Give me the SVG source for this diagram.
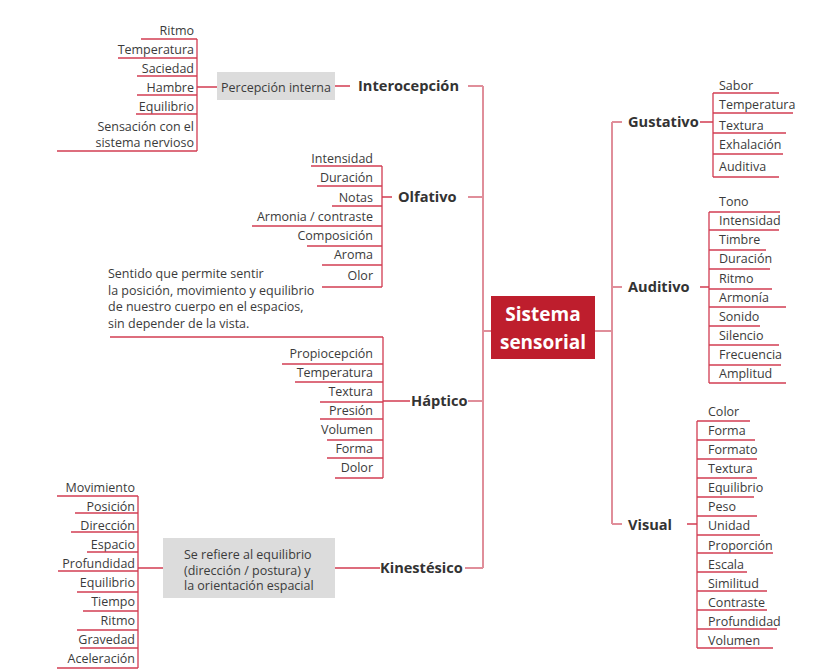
<svg xmlns="http://www.w3.org/2000/svg" width="815" height="669" viewBox="0 0 815 669">
<style>
.bg{fill:#ffffff}
.t{font-family:"Open Sans","Liberation Sans",sans-serif;font-size:12.5px;fill:#3b3b3b}
.e{text-anchor:end}
.b{font-family:"Open Sans","Liberation Sans",sans-serif;font-size:14.6px;font-weight:bold;fill:#333333}
.c{font-family:"Open Sans","Liberation Sans",sans-serif;font-size:19px;font-weight:bold;fill:#ffffff;text-anchor:middle}
.u{stroke:#d23c52;stroke-width:1.3;fill:none}
.k{stroke:#e08e9a;stroke-width:2;fill:none}
.box{fill:#dcdcdc}
</style>
<rect class="bg" x="0" y="0" width="815" height="669"/>
<g id="connectors">
  <path class="k" d="M483 86V568M468 86H483M468 197H483M483 331H491M468 401H483M465 568H483"/>
  <path class="k" d="M612 122V524M595 331H612M612 122H622M612 287H622M612 524H622"/>
  <path class="u" d="M197 39V151M197 87H217M335 86H350"/>
  <path class="u" d="M382 166V287M382 197H392"/>
  <path class="u" d="M383 337V478M383 401H410"/>
  <path class="u" d="M138 496V668M138 568H163M335 568H380"/>
  <path class="u" d="M713 93V177M700 122H713"/>
  <path class="u" d="M709 212V383M700 287H709"/>
  <path class="u" d="M697 421V648M687 524H697"/>
</g>
<g id="center">
  <rect x="491" y="296" width="104" height="63" fill="#be1e2d"/>
  <text class="c" x="543" y="321">Sistema</text>
  <text class="c" x="543" y="349">sensorial</text>
</g>
<g id="interocepcion">
  <text class="b" x="358" y="91">Interocepción</text>
</g>
<g id="percepcion-interna">
  <rect class="box" x="217" y="72" width="118" height="28"/>
  <text class="t" x="276" y="91.5" text-anchor="middle">Percepción interna</text>
</g>
<g id="intero-items">
  <g id="i-ritmo"><text class="t e" x="194" y="34.5">Ritmo</text><path class="u" d="M141 39H197"/></g>
  <g id="i-temperatura"><text class="t e" x="194" y="53.5">Temperatura</text><path class="u" d="M118 58H197"/></g>
  <g id="i-saciedad"><text class="t e" x="194" y="72.5">Saciedad</text><path class="u" d="M137 76H197"/></g>
  <g id="i-hambre"><text class="t e" x="194" y="91.5">Hambre</text><path class="u" d="M137 95H197"/></g>
  <g id="i-equilibrio"><text class="t e" x="194" y="110.5">Equilibrio</text><path class="u" d="M136 114H197"/></g>
  <g id="i-sensacion"><text class="t e" x="194" y="130.5">Sensación con el</text><text class="t e" x="194" y="147">sistema nervioso</text><path class="u" d="M57 151H197"/></g>
</g>
<g id="olfativo">
  <text class="b" x="398" y="202">Olfativo</text>
</g>
<g id="olf-items">
  <g id="o-intensidad"><text class="t e" x="373" y="162.5">Intensidad</text><path class="u" d="M311 166H382"/></g>
  <g id="o-duracion"><text class="t e" x="373" y="181.5">Duración</text><path class="u" d="M317 186H382"/></g>
  <g id="o-notas"><text class="t e" x="373" y="201.5">Notas</text><path class="u" d="M332 206H382"/></g>
  <g id="o-armonia"><text class="t e" x="373" y="220.5">Armonia / contraste</text><path class="u" d="M252 226H382"/></g>
  <g id="o-composicion"><text class="t e" x="373" y="239.5">Composición</text><path class="u" d="M307 246H382"/></g>
  <g id="o-aroma"><text class="t e" x="373" y="258.5">Aroma</text><path class="u" d="M322 265H382"/></g>
  <g id="o-olor"><text class="t e" x="373" y="279.5">Olor</text><path class="u" d="M322 287H382"/></g>
</g>
<g id="haptico">
  <text class="b" x="411" y="406">Háptico</text>
</g>
<g id="haptico-desc">
  <text class="t" x="108" y="278">Sentido que permite sentir</text>
  <text class="t" x="108" y="294.5">la posición, movimiento y equilibrio</text>
  <text class="t" x="108" y="311">de nuestro cuerpo en el espacios,</text>
  <text class="t" x="108" y="327.5">sin depender de la vista.</text>
  <path class="u" d="M110 337H383"/>
</g>
<g id="hap-items">
  <g id="h-propiocepcion"><text class="t e" x="373" y="357.5">Propiocepción</text><path class="u" d="M282 364H383"/></g>
  <g id="h-temperatura"><text class="t e" x="373" y="376.5">Temperatura</text><path class="u" d="M295 382H383"/></g>
  <g id="h-textura"><text class="t e" x="373" y="395.5">Textura</text><path class="u" d="M320 402H383"/></g>
  <g id="h-presion"><text class="t e" x="373" y="414.5">Presión</text><path class="u" d="M320 419H383"/></g>
  <g id="h-volumen"><text class="t e" x="373" y="433.5">Volumen</text><path class="u" d="M327 440H383"/></g>
  <g id="h-forma"><text class="t e" x="373" y="452.5">Forma</text><path class="u" d="M327 458H383"/></g>
  <g id="h-dolor"><text class="t e" x="373" y="471.5">Dolor</text><path class="u" d="M335 478H383"/></g>
</g>
<g id="kinestesico">
  <text class="b" x="380" y="573">Kinestésico</text>
</g>
<g id="kin-desc">
  <rect class="box" x="163" y="538" width="172" height="60"/>
  <text class="t" x="184" y="558.5">Se refiere al equilibrio</text>
  <text class="t" x="184" y="574.5">(dirección / postura) y</text>
  <text class="t" x="184" y="590">la orientación espacial</text>
</g>
<g id="kin-items">
  <g id="k-movimiento"><text class="t e" x="135" y="491.5">Movimiento</text><path class="u" d="M57 496H138"/></g>
  <g id="k-posicion"><text class="t e" x="135" y="510.5">Posición</text><path class="u" d="M75 513H138"/></g>
  <g id="k-direccion"><text class="t e" x="135" y="529.5">Dirección</text><path class="u" d="M71 532H138"/></g>
  <g id="k-espacio"><text class="t e" x="135" y="548.5">Espacio</text><path class="u" d="M87 552H138"/></g>
  <g id="k-profundidad"><text class="t e" x="135" y="567.5">Profundidad</text><path class="u" d="M58 571H138"/></g>
  <g id="k-equilibrio"><text class="t e" x="135" y="586.5">Equilibrio</text><path class="u" d="M77 592H138"/></g>
  <g id="k-tiempo"><text class="t e" x="135" y="605.5">Tiempo</text><path class="u" d="M83 611H138"/></g>
  <g id="k-ritmo"><text class="t e" x="135" y="624.5">Ritmo</text><path class="u" d="M77 630H138"/></g>
  <g id="k-gravedad"><text class="t e" x="135" y="643.5">Gravedad</text><path class="u" d="M80 648H138"/></g>
  <g id="k-aceleracion"><text class="t e" x="135" y="662.5">Aceleración</text><path class="u" d="M57 668H138"/></g>
</g>
<g id="gustativo">
  <text class="b" x="628" y="127">Gustativo</text>
</g>
<g id="gus-items">
  <g id="g-sabor"><text class="t" x="719" y="89.5">Sabor</text><path class="u" d="M713 93H779"/></g>
  <g id="g-temperatura"><text class="t" x="719" y="108.5">Temperatura</text><path class="u" d="M713 113H793"/></g>
  <g id="g-textura"><text class="t" x="719" y="129.5">Textura</text><path class="u" d="M713 133H786"/></g>
  <g id="g-exhalacion"><text class="t" x="719" y="148.5">Exhalación</text><path class="u" d="M713 154H783"/></g>
  <g id="g-auditiva"><text class="t" x="719" y="170.5">Auditiva</text><path class="u" d="M713 177H779"/></g>
</g>
<g id="auditivo">
  <text class="b" x="628" y="292">Auditivo</text>
</g>
<g id="aud-items">
  <g id="a-tono"><text class="t" x="719" y="205.5">Tono</text><path class="u" d="M709 212H780"/></g>
  <g id="a-intensidad"><text class="t" x="719" y="224.5">Intensidad</text><path class="u" d="M709 230H779"/></g>
  <g id="a-timbre"><text class="t" x="719" y="243.5">Timbre</text><path class="u" d="M709 250H766"/></g>
  <g id="a-duracion"><text class="t" x="719" y="262.5">Duración</text><path class="u" d="M709 269H770"/></g>
  <g id="a-ritmo"><text class="t" x="719" y="282.5">Ritmo</text><path class="u" d="M709 289H772"/></g>
  <g id="a-armonia"><text class="t" x="719" y="301.5">Armonía</text><path class="u" d="M709 307H786"/></g>
  <g id="a-sonido"><text class="t" x="719" y="320.5">Sonido</text><path class="u" d="M709 326H760"/></g>
  <g id="a-silencio"><text class="t" x="719" y="339.5">Silencio</text><path class="u" d="M709 345H779"/></g>
  <g id="a-frecuencia"><text class="t" x="719" y="358.5">Frecuencia</text><path class="u" d="M709 365H781"/></g>
  <g id="a-amplitud"><text class="t" x="719" y="377.5">Amplitud</text><path class="u" d="M709 383H786"/></g>
</g>
<g id="visual">
  <text class="b" x="628" y="530">Visual</text>
</g>
<g id="vis-items">
  <g id="v-color"><text class="t" x="708" y="415.5">Color</text><path class="u" d="M697 421H750"/></g>
  <g id="v-forma"><text class="t" x="708" y="434.5">Forma</text><path class="u" d="M697 440H755"/></g>
  <g id="v-formato"><text class="t" x="708" y="453.5">Formato</text><path class="u" d="M697 459H757"/></g>
  <g id="v-textura"><text class="t" x="708" y="472.5">Textura</text><path class="u" d="M697 478H757"/></g>
  <g id="v-equilibrio"><text class="t" x="708" y="491.5">Equilibrio</text><path class="u" d="M697 497H754"/></g>
  <g id="v-peso"><text class="t" x="708" y="510.5">Peso</text><path class="u" d="M697 516H757"/></g>
  <g id="v-unidad"><text class="t" x="708" y="529.5">Unidad</text><path class="u" d="M697 535H760"/></g>
  <g id="v-proporcion"><text class="t" x="708" y="549.5">Proporción</text><path class="u" d="M697 553H773"/></g>
  <g id="v-escala"><text class="t" x="708" y="568.5">Escala</text><path class="u" d="M697 572H747"/></g>
  <g id="v-similitud"><text class="t" x="708" y="587.5">Similitud</text><path class="u" d="M697 591H767"/></g>
  <g id="v-contraste"><text class="t" x="708" y="606.5">Contraste</text><path class="u" d="M697 610H767"/></g>
  <g id="v-profundidad"><text class="t" x="708" y="625.5">Profundidad</text><path class="u" d="M697 629H777"/></g>
  <g id="v-volumen"><text class="t" x="708" y="644.5">Volumen</text><path class="u" d="M697 648H773"/></g>
</g>
</svg>
